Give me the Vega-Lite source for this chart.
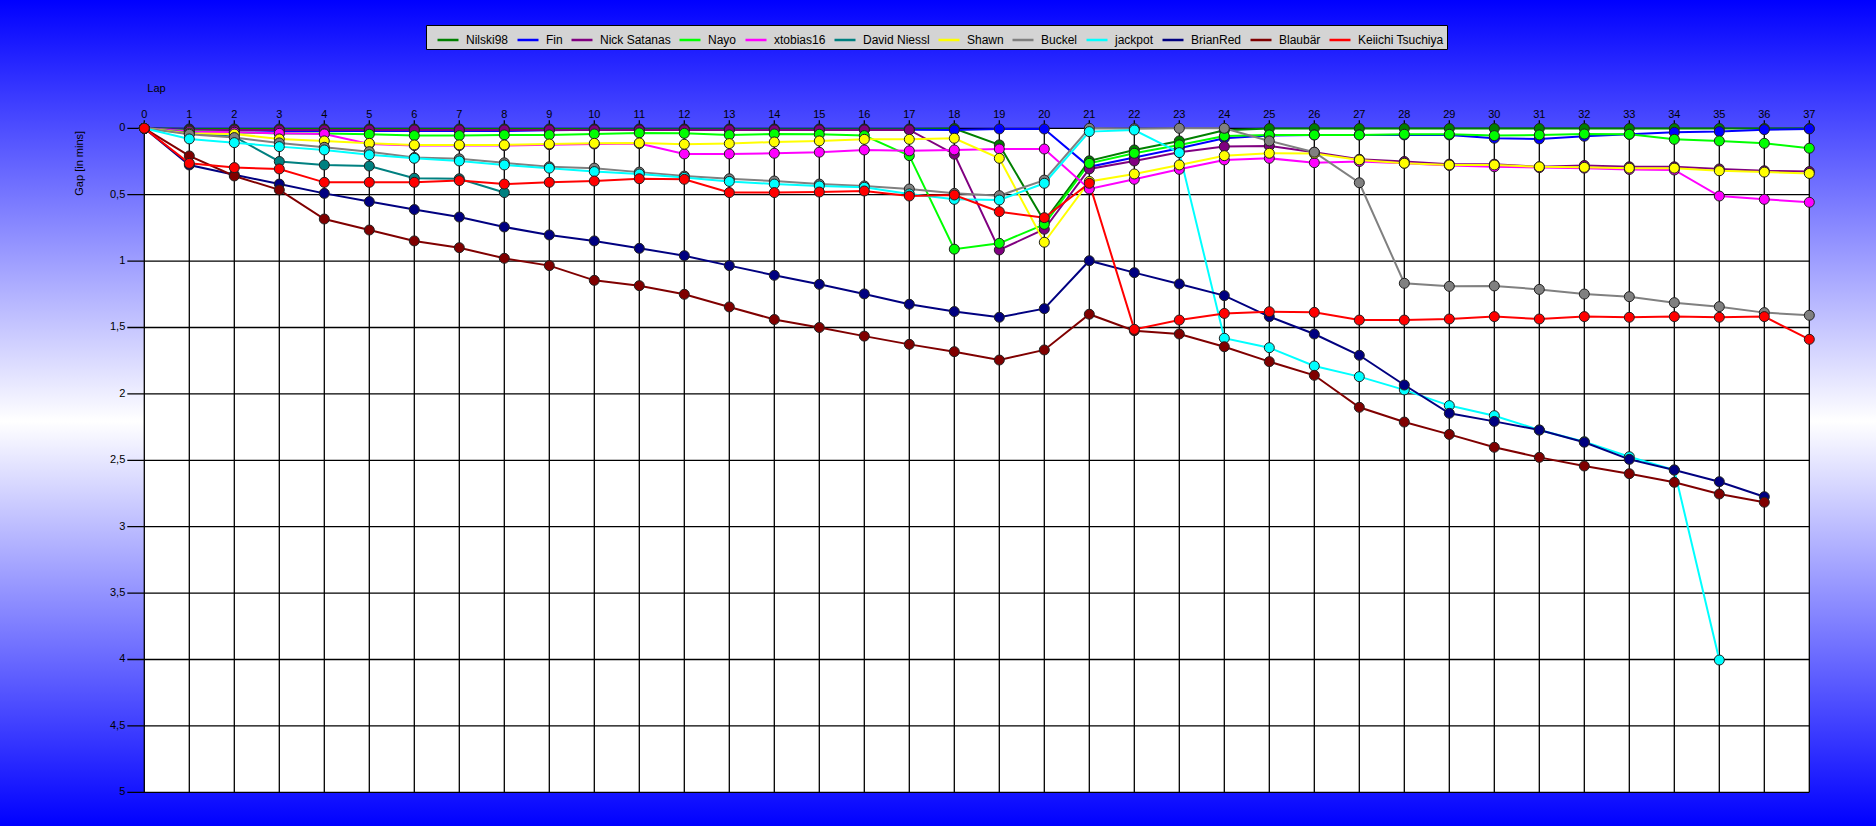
{
  "$schema": "https://vega.github.io/schema/vega-lite/v6.json",
  "width": 1876,
  "height": 826,
  "autosize": {"type": "fit", "contains": "padding"},
  "padding": 0,
  "background": "#0000ff",
  "view": {
    "stroke": null,
    "fill": {"gradient": "linear", "x1": 0, "y1": 0, "x2": 0, "y2": 1,
      "stops": [{"offset": 0, "color": "#0000ff"}, {"offset": 0.51, "color": "#ffffff"}, {"offset": 1, "color": "#0000ff"}]}
  },
  "config": {
    "font": "Liberation Sans",
    "locale": {"number": {"decimal": ",", "thousands": ".", "grouping": [3], "currency": ["", " €"]}},
    "text": {"font": "Liberation Sans", "fontSize": 11, "color": "#000000"}
  },
  "datasets": {
    "plot": [{"area": "plot"}],
    "laps": [{"lap":0},{"lap":1},{"lap":2},{"lap":3},{"lap":4},{"lap":5},{"lap":6},{"lap":7},{"lap":8},{"lap":9},{"lap":10},{"lap":11},{"lap":12},{"lap":13},{"lap":14},{"lap":15},{"lap":16},{"lap":17},{"lap":18},{"lap":19},{"lap":20},{"lap":21},{"lap":22},{"lap":23},{"lap":24},{"lap":25},{"lap":26},{"lap":27},{"lap":28},{"lap":29},{"lap":30},{"lap":31},{"lap":32},{"lap":33},{"lap":34},{"lap":35},{"lap":36},{"lap":37}],
    "gaps": [{"g":0},{"g":0.5},{"g":1},{"g":1.5},{"g":2},{"g":2.5},{"g":3},{"g":3.5},{"g":4},{"g":4.5},{"g":5}],
    "race": [
{"d":"Nilski98","lap":0,"gap":0},{"d":"Nilski98","lap":1,"gap":0.005},{"d":"Nilski98","lap":2,"gap":0.005},{"d":"Nilski98","lap":3,"gap":0.005},{"d":"Nilski98","lap":4,"gap":0.005},{"d":"Nilski98","lap":5,"gap":0.005},{"d":"Nilski98","lap":6,"gap":0.005},{"d":"Nilski98","lap":7,"gap":0.005},{"d":"Nilski98","lap":8,"gap":0.005},{"d":"Nilski98","lap":9,"gap":0.005},{"d":"Nilski98","lap":10,"gap":0.005},{"d":"Nilski98","lap":11,"gap":0.005},{"d":"Nilski98","lap":12,"gap":0.005},{"d":"Nilski98","lap":13,"gap":0.005},{"d":"Nilski98","lap":14,"gap":0.005},{"d":"Nilski98","lap":15,"gap":0.005},{"d":"Nilski98","lap":16,"gap":0.005},{"d":"Nilski98","lap":17,"gap":0.005},{"d":"Nilski98","lap":18,"gap":0.002},{"d":"Nilski98","lap":19,"gap":0.125},{"d":"Nilski98","lap":20,"gap":0.7},{"d":"Nilski98","lap":21,"gap":0.245},{"d":"Nilski98","lap":22,"gap":0.163},{"d":"Nilski98","lap":23,"gap":0.095},{"d":"Nilski98","lap":24,"gap":0.015},{"d":"Nilski98","lap":25,"gap":0.002},{"d":"Nilski98","lap":26,"gap":0.002},{"d":"Nilski98","lap":27,"gap":0.002},{"d":"Nilski98","lap":28,"gap":0.002},{"d":"Nilski98","lap":29,"gap":0.002},{"d":"Nilski98","lap":30,"gap":0.002},{"d":"Nilski98","lap":31,"gap":0.002},{"d":"Nilski98","lap":32,"gap":0.002},{"d":"Nilski98","lap":33,"gap":0.002},{"d":"Nilski98","lap":34,"gap":0.002},{"d":"Nilski98","lap":35,"gap":0.002},{"d":"Nilski98","lap":36,"gap":0.002},{"d":"Nilski98","lap":37,"gap":0.002},
{"d":"Fin","lap":0,"gap":0},{"d":"Fin","lap":1,"gap":0.01},{"d":"Fin","lap":2,"gap":0.015},{"d":"Fin","lap":3,"gap":0.02},{"d":"Fin","lap":4,"gap":0.02},{"d":"Fin","lap":5,"gap":0.02},{"d":"Fin","lap":6,"gap":0.02},{"d":"Fin","lap":7,"gap":0.02},{"d":"Fin","lap":8,"gap":0.02},{"d":"Fin","lap":9,"gap":0.015},{"d":"Fin","lap":10,"gap":0.01},{"d":"Fin","lap":11,"gap":0.01},{"d":"Fin","lap":12,"gap":0.01},{"d":"Fin","lap":13,"gap":0.01},{"d":"Fin","lap":14,"gap":0.01},{"d":"Fin","lap":15,"gap":0.01},{"d":"Fin","lap":16,"gap":0.01},{"d":"Fin","lap":17,"gap":0.01},{"d":"Fin","lap":18,"gap":0.013},{"d":"Fin","lap":19,"gap":0.005},{"d":"Fin","lap":20,"gap":0.005},{"d":"Fin","lap":21,"gap":0.29},{"d":"Fin","lap":22,"gap":0.22},{"d":"Fin","lap":23,"gap":0.15},{"d":"Fin","lap":24,"gap":0.075},{"d":"Fin","lap":25,"gap":0.055},{"d":"Fin","lap":26,"gap":0.05},{"d":"Fin","lap":27,"gap":0.05},{"d":"Fin","lap":28,"gap":0.05},{"d":"Fin","lap":29,"gap":0.05},{"d":"Fin","lap":30,"gap":0.075},{"d":"Fin","lap":31,"gap":0.08},{"d":"Fin","lap":32,"gap":0.06},{"d":"Fin","lap":33,"gap":0.045},{"d":"Fin","lap":34,"gap":0.03},{"d":"Fin","lap":35,"gap":0.025},{"d":"Fin","lap":36,"gap":0.01},{"d":"Fin","lap":37,"gap":0.005},
{"d":"Nick Satanas","lap":0,"gap":0},{"d":"Nick Satanas","lap":1,"gap":0.013},{"d":"Nick Satanas","lap":2,"gap":0.013},{"d":"Nick Satanas","lap":3,"gap":0.012},{"d":"Nick Satanas","lap":4,"gap":0.012},{"d":"Nick Satanas","lap":5,"gap":0.012},{"d":"Nick Satanas","lap":6,"gap":0.012},{"d":"Nick Satanas","lap":7,"gap":0.012},{"d":"Nick Satanas","lap":8,"gap":0.012},{"d":"Nick Satanas","lap":9,"gap":0.012},{"d":"Nick Satanas","lap":10,"gap":0.012},{"d":"Nick Satanas","lap":11,"gap":0.012},{"d":"Nick Satanas","lap":12,"gap":0.012},{"d":"Nick Satanas","lap":13,"gap":0.012},{"d":"Nick Satanas","lap":14,"gap":0.012},{"d":"Nick Satanas","lap":15,"gap":0.012},{"d":"Nick Satanas","lap":16,"gap":0.012},{"d":"Nick Satanas","lap":17,"gap":0.012},{"d":"Nick Satanas","lap":18,"gap":0.195},{"d":"Nick Satanas","lap":19,"gap":0.916},{"d":"Nick Satanas","lap":20,"gap":0.76},{"d":"Nick Satanas","lap":21,"gap":0.306},{"d":"Nick Satanas","lap":22,"gap":0.246},{"d":"Nick Satanas","lap":23,"gap":0.18},{"d":"Nick Satanas","lap":24,"gap":0.138},{"d":"Nick Satanas","lap":25,"gap":0.133},{"d":"Nick Satanas","lap":26,"gap":0.18},{"d":"Nick Satanas","lap":27,"gap":0.233},{"d":"Nick Satanas","lap":28,"gap":0.25},{"d":"Nick Satanas","lap":29,"gap":0.27},{"d":"Nick Satanas","lap":30,"gap":0.27},{"d":"Nick Satanas","lap":31,"gap":0.29},{"d":"Nick Satanas","lap":32,"gap":0.28},{"d":"Nick Satanas","lap":33,"gap":0.29},{"d":"Nick Satanas","lap":34,"gap":0.29},{"d":"Nick Satanas","lap":35,"gap":0.306},{"d":"Nick Satanas","lap":36,"gap":0.32},{"d":"Nick Satanas","lap":37,"gap":0.326},
{"d":"Nayo","lap":0,"gap":0},{"d":"Nayo","lap":1,"gap":0.02},{"d":"Nayo","lap":2,"gap":0.03},{"d":"Nayo","lap":3,"gap":0.04},{"d":"Nayo","lap":4,"gap":0.04},{"d":"Nayo","lap":5,"gap":0.045},{"d":"Nayo","lap":6,"gap":0.055},{"d":"Nayo","lap":7,"gap":0.055},{"d":"Nayo","lap":8,"gap":0.05},{"d":"Nayo","lap":9,"gap":0.05},{"d":"Nayo","lap":10,"gap":0.043},{"d":"Nayo","lap":11,"gap":0.035},{"d":"Nayo","lap":12,"gap":0.038},{"d":"Nayo","lap":13,"gap":0.05},{"d":"Nayo","lap":14,"gap":0.043},{"d":"Nayo","lap":15,"gap":0.045},{"d":"Nayo","lap":16,"gap":0.055},{"d":"Nayo","lap":17,"gap":0.206},{"d":"Nayo","lap":18,"gap":0.91},{"d":"Nayo","lap":19,"gap":0.866},{"d":"Nayo","lap":20,"gap":0.723},{"d":"Nayo","lap":21,"gap":0.264},{"d":"Nayo","lap":22,"gap":0.188},{"d":"Nayo","lap":23,"gap":0.125},{"d":"Nayo","lap":24,"gap":0.058},{"d":"Nayo","lap":25,"gap":0.05},{"d":"Nayo","lap":26,"gap":0.05},{"d":"Nayo","lap":27,"gap":0.05},{"d":"Nayo","lap":28,"gap":0.045},{"d":"Nayo","lap":29,"gap":0.045},{"d":"Nayo","lap":30,"gap":0.055},{"d":"Nayo","lap":31,"gap":0.05},{"d":"Nayo","lap":32,"gap":0.043},{"d":"Nayo","lap":33,"gap":0.045},{"d":"Nayo","lap":34,"gap":0.083},{"d":"Nayo","lap":35,"gap":0.095},{"d":"Nayo","lap":36,"gap":0.113},{"d":"Nayo","lap":37,"gap":0.15},
{"d":"xtobias16","lap":0,"gap":0},{"d":"xtobias16","lap":1,"gap":0.025},{"d":"xtobias16","lap":2,"gap":0.03},{"d":"xtobias16","lap":3,"gap":0.038},{"d":"xtobias16","lap":4,"gap":0.043},{"d":"xtobias16","lap":5,"gap":0.118},{"d":"xtobias16","lap":6,"gap":0.13},{"d":"xtobias16","lap":7,"gap":0.13},{"d":"xtobias16","lap":8,"gap":0.13},{"d":"xtobias16","lap":9,"gap":0.123},{"d":"xtobias16","lap":10,"gap":0.118},{"d":"xtobias16","lap":11,"gap":0.115},{"d":"xtobias16","lap":12,"gap":0.193},{"d":"xtobias16","lap":13,"gap":0.193},{"d":"xtobias16","lap":14,"gap":0.188},{"d":"xtobias16","lap":15,"gap":0.18},{"d":"xtobias16","lap":16,"gap":0.163},{"d":"xtobias16","lap":17,"gap":0.17},{"d":"xtobias16","lap":18,"gap":0.163},{"d":"xtobias16","lap":19,"gap":0.156},{"d":"xtobias16","lap":20,"gap":0.156},{"d":"xtobias16","lap":21,"gap":0.457},{"d":"xtobias16","lap":22,"gap":0.384},{"d":"xtobias16","lap":23,"gap":0.309},{"d":"xtobias16","lap":24,"gap":0.238},{"d":"xtobias16","lap":25,"gap":0.226},{"d":"xtobias16","lap":26,"gap":0.259},{"d":"xtobias16","lap":27,"gap":0.25},{"d":"xtobias16","lap":28,"gap":0.263},{"d":"xtobias16","lap":29,"gap":0.28},{"d":"xtobias16","lap":30,"gap":0.29},{"d":"xtobias16","lap":31,"gap":0.296},{"d":"xtobias16","lap":32,"gap":0.3},{"d":"xtobias16","lap":33,"gap":0.31},{"d":"xtobias16","lap":34,"gap":0.314},{"d":"xtobias16","lap":35,"gap":0.51},{"d":"xtobias16","lap":36,"gap":0.535},{"d":"xtobias16","lap":37,"gap":0.557},
{"d":"David Niessl","lap":0,"gap":0},{"d":"David Niessl","lap":1,"gap":0.035},{"d":"David Niessl","lap":2,"gap":0.063},{"d":"David Niessl","lap":3,"gap":0.25},{"d":"David Niessl","lap":4,"gap":0.276},{"d":"David Niessl","lap":5,"gap":0.284},{"d":"David Niessl","lap":6,"gap":0.376},{"d":"David Niessl","lap":7,"gap":0.38},{"d":"David Niessl","lap":8,"gap":0.484},
{"d":"Shawn","lap":0,"gap":0},{"d":"Shawn","lap":1,"gap":0.04},{"d":"Shawn","lap":2,"gap":0.043},{"d":"Shawn","lap":3,"gap":0.08},{"d":"Shawn","lap":4,"gap":0.095},{"d":"Shawn","lap":5,"gap":0.113},{"d":"Shawn","lap":6,"gap":0.125},{"d":"Shawn","lap":7,"gap":0.125},{"d":"Shawn","lap":8,"gap":0.125},{"d":"Shawn","lap":9,"gap":0.118},{"d":"Shawn","lap":10,"gap":0.113},{"d":"Shawn","lap":11,"gap":0.11},{"d":"Shawn","lap":12,"gap":0.12},{"d":"Shawn","lap":13,"gap":0.115},{"d":"Shawn","lap":14,"gap":0.103},{"d":"Shawn","lap":15,"gap":0.095},{"d":"Shawn","lap":16,"gap":0.083},{"d":"Shawn","lap":17,"gap":0.083},{"d":"Shawn","lap":18,"gap":0.075},{"d":"Shawn","lap":19,"gap":0.226},{"d":"Shawn","lap":20,"gap":0.858},{"d":"Shawn","lap":21,"gap":0.4},{"d":"Shawn","lap":22,"gap":0.344},{"d":"Shawn","lap":23,"gap":0.276},{"d":"Shawn","lap":24,"gap":0.206},{"d":"Shawn","lap":25,"gap":0.188},{"d":"Shawn","lap":26,"gap":0.19},{"d":"Shawn","lap":27,"gap":0.238},{"d":"Shawn","lap":28,"gap":0.263},{"d":"Shawn","lap":29,"gap":0.276},{"d":"Shawn","lap":30,"gap":0.276},{"d":"Shawn","lap":31,"gap":0.29},{"d":"Shawn","lap":32,"gap":0.294},{"d":"Shawn","lap":33,"gap":0.3},{"d":"Shawn","lap":34,"gap":0.3},{"d":"Shawn","lap":35,"gap":0.32},{"d":"Shawn","lap":36,"gap":0.33},{"d":"Shawn","lap":37,"gap":0.34},
{"d":"Buckel","lap":0,"gap":0},{"d":"Buckel","lap":1,"gap":0.045},{"d":"Buckel","lap":2,"gap":0.07},{"d":"Buckel","lap":3,"gap":0.11},{"d":"Buckel","lap":4,"gap":0.143},{"d":"Buckel","lap":5,"gap":0.176},{"d":"Buckel","lap":6,"gap":0.22},{"d":"Buckel","lap":7,"gap":0.23},{"d":"Buckel","lap":8,"gap":0.26},{"d":"Buckel","lap":9,"gap":0.29},{"d":"Buckel","lap":10,"gap":0.3},{"d":"Buckel","lap":11,"gap":0.33},{"d":"Buckel","lap":12,"gap":0.36},{"d":"Buckel","lap":13,"gap":0.38},{"d":"Buckel","lap":14,"gap":0.397},{"d":"Buckel","lap":15,"gap":0.42},{"d":"Buckel","lap":16,"gap":0.434},{"d":"Buckel","lap":17,"gap":0.457},{"d":"Buckel","lap":18,"gap":0.49},{"d":"Buckel","lap":19,"gap":0.507},{"d":"Buckel","lap":20,"gap":0.39},{"d":"Buckel","lap":21,"gap":0.0},{"d":"Buckel","lap":22,"gap":0.003},{"d":"Buckel","lap":23,"gap":0.0},{"d":"Buckel","lap":24,"gap":0.0},{"d":"Buckel","lap":25,"gap":0.095},{"d":"Buckel","lap":26,"gap":0.18},{"d":"Buckel","lap":27,"gap":0.41},{"d":"Buckel","lap":28,"gap":1.167},{"d":"Buckel","lap":29,"gap":1.19},{"d":"Buckel","lap":30,"gap":1.187},{"d":"Buckel","lap":31,"gap":1.213},{"d":"Buckel","lap":32,"gap":1.248},{"d":"Buckel","lap":33,"gap":1.268},{"d":"Buckel","lap":34,"gap":1.313},{"d":"Buckel","lap":35,"gap":1.343},{"d":"Buckel","lap":36,"gap":1.388},{"d":"Buckel","lap":37,"gap":1.408},
{"d":"jackpot","lap":0,"gap":0},{"d":"jackpot","lap":1,"gap":0.08},{"d":"jackpot","lap":2,"gap":0.108},{"d":"jackpot","lap":3,"gap":0.138},{"d":"jackpot","lap":4,"gap":0.163},{"d":"jackpot","lap":5,"gap":0.2},{"d":"jackpot","lap":6,"gap":0.226},{"d":"jackpot","lap":7,"gap":0.246},{"d":"jackpot","lap":8,"gap":0.276},{"d":"jackpot","lap":9,"gap":0.3},{"d":"jackpot","lap":10,"gap":0.326},{"d":"jackpot","lap":11,"gap":0.344},{"d":"jackpot","lap":12,"gap":0.37},{"d":"jackpot","lap":13,"gap":0.4},{"d":"jackpot","lap":14,"gap":0.42},{"d":"jackpot","lap":15,"gap":0.434},{"d":"jackpot","lap":16,"gap":0.444},{"d":"jackpot","lap":17,"gap":0.494},{"d":"jackpot","lap":18,"gap":0.535},{"d":"jackpot","lap":19,"gap":0.54},{"d":"jackpot","lap":20,"gap":0.414},{"d":"jackpot","lap":21,"gap":0.025},{"d":"jackpot","lap":22,"gap":0.013},{"d":"jackpot","lap":23,"gap":0.183},{"d":"jackpot","lap":24,"gap":1.581},{"d":"jackpot","lap":25,"gap":1.652},{"d":"jackpot","lap":26,"gap":1.79},{"d":"jackpot","lap":27,"gap":1.87},{"d":"jackpot","lap":28,"gap":1.97},{"d":"jackpot","lap":29,"gap":2.088},{"d":"jackpot","lap":30,"gap":2.164},{"d":"jackpot","lap":31,"gap":2.272},{"d":"jackpot","lap":32,"gap":2.36},{"d":"jackpot","lap":33,"gap":2.473},{"d":"jackpot","lap":34,"gap":2.573},{"d":"jackpot","lap":35,"gap":4.004},
{"d":"BrianRed","lap":0,"gap":0},{"d":"BrianRed","lap":1,"gap":0.276},{"d":"BrianRed","lap":2,"gap":0.35},{"d":"BrianRed","lap":3,"gap":0.42},{"d":"BrianRed","lap":4,"gap":0.49},{"d":"BrianRed","lap":5,"gap":0.552},{"d":"BrianRed","lap":6,"gap":0.612},{"d":"BrianRed","lap":7,"gap":0.668},{"d":"BrianRed","lap":8,"gap":0.743},{"d":"BrianRed","lap":9,"gap":0.803},{"d":"BrianRed","lap":10,"gap":0.848},{"d":"BrianRed","lap":11,"gap":0.904},{"d":"BrianRed","lap":12,"gap":0.959},{"d":"BrianRed","lap":13,"gap":1.034},{"d":"BrianRed","lap":14,"gap":1.107},{"d":"BrianRed","lap":15,"gap":1.175},{"d":"BrianRed","lap":16,"gap":1.247},{"d":"BrianRed","lap":17,"gap":1.325},{"d":"BrianRed","lap":18,"gap":1.38},{"d":"BrianRed","lap":19,"gap":1.423},{"d":"BrianRed","lap":20,"gap":1.358},{"d":"BrianRed","lap":21,"gap":0.997},{"d":"BrianRed","lap":22,"gap":1.087},{"d":"BrianRed","lap":23,"gap":1.172},{"d":"BrianRed","lap":24,"gap":1.26},{"d":"BrianRed","lap":25,"gap":1.418},{"d":"BrianRed","lap":26,"gap":1.549},{"d":"BrianRed","lap":27,"gap":1.709},{"d":"BrianRed","lap":28,"gap":1.933},{"d":"BrianRed","lap":29,"gap":2.146},{"d":"BrianRed","lap":30,"gap":2.207},{"d":"BrianRed","lap":31,"gap":2.272},{"d":"BrianRed","lap":32,"gap":2.364},{"d":"BrianRed","lap":33,"gap":2.493},{"d":"BrianRed","lap":34,"gap":2.573},{"d":"BrianRed","lap":35,"gap":2.661},{"d":"BrianRed","lap":36,"gap":2.774},
{"d":"Blaubär","lap":0,"gap":0},{"d":"Blaubär","lap":1,"gap":0.208},{"d":"Blaubär","lap":2,"gap":0.359},{"d":"Blaubär","lap":3,"gap":0.464},{"d":"Blaubär","lap":4,"gap":0.683},{"d":"Blaubär","lap":5,"gap":0.766},{"d":"Blaubär","lap":6,"gap":0.848},{"d":"Blaubär","lap":7,"gap":0.899},{"d":"Blaubär","lap":8,"gap":0.979},{"d":"Blaubär","lap":9,"gap":1.034},{"d":"Blaubär","lap":10,"gap":1.145},{"d":"Blaubär","lap":11,"gap":1.185},{"d":"Blaubär","lap":12,"gap":1.25},{"d":"Blaubär","lap":13,"gap":1.345},{"d":"Blaubär","lap":14,"gap":1.44},{"d":"Blaubär","lap":15,"gap":1.5},{"d":"Blaubär","lap":16,"gap":1.565},{"d":"Blaubär","lap":17,"gap":1.627},{"d":"Blaubär","lap":18,"gap":1.682},{"d":"Blaubär","lap":19,"gap":1.745},{"d":"Blaubär","lap":20,"gap":1.669},{"d":"Blaubär","lap":21,"gap":1.4},{"d":"Blaubär","lap":22,"gap":1.524},{"d":"Blaubär","lap":23,"gap":1.549},{"d":"Blaubär","lap":24,"gap":1.645},{"d":"Blaubär","lap":25,"gap":1.757},{"d":"Blaubär","lap":26,"gap":1.86},{"d":"Blaubär","lap":27,"gap":2.101},{"d":"Blaubär","lap":28,"gap":2.212},{"d":"Blaubär","lap":29,"gap":2.305},{"d":"Blaubär","lap":30,"gap":2.402},{"d":"Blaubär","lap":31,"gap":2.478},{"d":"Blaubär","lap":32,"gap":2.543},{"d":"Blaubär","lap":33,"gap":2.601},{"d":"Blaubär","lap":34,"gap":2.666},{"d":"Blaubär","lap":35,"gap":2.754},{"d":"Blaubär","lap":36,"gap":2.816},
{"d":"Keiichi Tsuchiya","lap":0,"gap":0},{"d":"Keiichi Tsuchiya","lap":1,"gap":0.264},{"d":"Keiichi Tsuchiya","lap":2,"gap":0.296},{"d":"Keiichi Tsuchiya","lap":3,"gap":0.306},{"d":"Keiichi Tsuchiya","lap":4,"gap":0.407},{"d":"Keiichi Tsuchiya","lap":5,"gap":0.407},{"d":"Keiichi Tsuchiya","lap":6,"gap":0.407},{"d":"Keiichi Tsuchiya","lap":7,"gap":0.394},{"d":"Keiichi Tsuchiya","lap":8,"gap":0.42},{"d":"Keiichi Tsuchiya","lap":9,"gap":0.407},{"d":"Keiichi Tsuchiya","lap":10,"gap":0.397},{"d":"Keiichi Tsuchiya","lap":11,"gap":0.38},{"d":"Keiichi Tsuchiya","lap":12,"gap":0.384},{"d":"Keiichi Tsuchiya","lap":13,"gap":0.484},{"d":"Keiichi Tsuchiya","lap":14,"gap":0.484},{"d":"Keiichi Tsuchiya","lap":15,"gap":0.48},{"d":"Keiichi Tsuchiya","lap":16,"gap":0.472},{"d":"Keiichi Tsuchiya","lap":17,"gap":0.51},{"d":"Keiichi Tsuchiya","lap":18,"gap":0.502},{"d":"Keiichi Tsuchiya","lap":19,"gap":0.628},{"d":"Keiichi Tsuchiya","lap":20,"gap":0.673},{"d":"Keiichi Tsuchiya","lap":21,"gap":0.414},{"d":"Keiichi Tsuchiya","lap":22,"gap":1.514},{"d":"Keiichi Tsuchiya","lap":23,"gap":1.444},{"d":"Keiichi Tsuchiya","lap":24,"gap":1.394},{"d":"Keiichi Tsuchiya","lap":25,"gap":1.381},{"d":"Keiichi Tsuchiya","lap":26,"gap":1.386},{"d":"Keiichi Tsuchiya","lap":27,"gap":1.444},{"d":"Keiichi Tsuchiya","lap":28,"gap":1.444},{"d":"Keiichi Tsuchiya","lap":29,"gap":1.436},{"d":"Keiichi Tsuchiya","lap":30,"gap":1.418},{"d":"Keiichi Tsuchiya","lap":31,"gap":1.436},{"d":"Keiichi Tsuchiya","lap":32,"gap":1.418},{"d":"Keiichi Tsuchiya","lap":33,"gap":1.423},{"d":"Keiichi Tsuchiya","lap":34,"gap":1.418},{"d":"Keiichi Tsuchiya","lap":35,"gap":1.423},{"d":"Keiichi Tsuchiya","lap":36,"gap":1.418},{"d":"Keiichi Tsuchiya","lap":37,"gap":1.589}
    ]
  },
  "layer": [
    {
      "data": {"name": "plot"},
      "mark": {"type": "rect", "fill": "#ffffff"},
      "encoding": {
        "x": {"datum": 0, "type": "quantitative", "scale": {"domain": [-3.2067, 38.482], "nice": false, "zero": false}, "axis": null},
        "x2": {"datum": 37},
        "y": {"datum": 0, "type": "quantitative", "scale": {"domain": [-0.9661, 5.2538], "nice": false, "zero": false, "reverse": true}, "axis": null},
        "y2": {"datum": 5}
      }
    },
    {
      "data": {"name": "laps"},
      "mark": {"type": "rule", "color": "#000000", "strokeWidth": 1.3},
      "encoding": {
        "x": {"field": "lap", "type": "quantitative", "axis": null},
        "y": {"datum": -0.0602, "type": "quantitative", "axis": null},
        "y2": {"datum": 5}
      }
    },
    {
      "data": {"name": "gaps"},
      "mark": {"type": "rule", "color": "#000000", "strokeWidth": 1.3},
      "encoding": {
        "y": {"field": "g", "type": "quantitative", "axis": null},
        "x": {"datum": -0.3778, "type": "quantitative", "axis": null},
        "x2": {"datum": 37}
      }
    },
    {
      "data": {"name": "laps"},
      "mark": {"type": "text", "baseline": "alphabetic", "align": "center", "dy": -10, "fontSize": 11, "color": "#000000"},
      "encoding": {
        "x": {"field": "lap", "type": "quantitative", "axis": null},
        "y": {"datum": 0, "type": "quantitative", "axis": null},
        "text": {"field": "lap", "type": "quantitative", "format": "d"}
      }
    },
    {
      "data": {"name": "gaps"},
      "mark": {"type": "text", "baseline": "middle", "align": "right", "dx": -19, "fontSize": 11, "color": "#000000"},
      "encoding": {
        "y": {"field": "g", "type": "quantitative", "axis": null},
        "x": {"datum": 0, "type": "quantitative", "axis": null},
        "text": {"field": "g", "type": "quantitative", "format": "~g"}
      }
    },
    {
      "data": {"name": "plot"},
      "mark": {"type": "text", "text": "Lap", "baseline": "alphabetic", "align": "left", "dx": 3, "dy": -36.5, "fontSize": 11, "color": "#000000"},
      "encoding": {
        "x": {"datum": 0, "type": "quantitative", "axis": null},
        "y": {"datum": 0, "type": "quantitative", "axis": null}
      }
    },
    {
      "data": {"name": "plot"},
      "mark": {"type": "text", "text": "Gap [in mins]", "baseline": "middle", "align": "center", "angle": 270, "dx": -35, "dy": -64, "fontSize": 11, "color": "#000000"},
      "encoding": {
        "x": {"datum": 0, "type": "quantitative", "axis": null},
        "y": {"datum": 0, "type": "quantitative", "axis": null}
      }
    },
    {
      "data": {"name": "race"},
      "mark": {"type": "line", "strokeWidth": 2},
      "encoding": {
        "x": {"field": "lap", "type": "quantitative", "axis": null},
        "y": {"field": "gap", "type": "quantitative", "axis": null},
        "color": {"field": "d", "type": "nominal",
          "scale": {"domain": ["Nilski98","Fin","Nick Satanas","Nayo","xtobias16","David Niessl","Shawn","Buckel","jackpot","BrianRed","Blaubär","Keiichi Tsuchiya"],
            "range": ["#008000","#0000ff","#800080","#00ff00","#ff00ff","#008080","#ffff00","#808080","#00ffff","#000080","#800000","#ff0000"]},
          "legend": {"orient": "none", "legendX": 426, "legendY": 25, "direction": "horizontal", "columns": 12, "title": null,
            "fillColor": "#d4d4d4", "strokeColor": "#000000", "padding": 3,
            "symbolType": "stroke", "symbolSize": 441, "symbolStrokeWidth": 2.5, "symbolOffset": 7,
            "labelFont": "Liberation Sans", "labelFontSize": 12, "labelColor": "#000000", "labelOffset": 6, "labelLimit": 300,
            "columnPadding": 0}}
      }
    },
    {
      "data": {"name": "race"},
      "mark": {"type": "point", "filled": true, "size": 100, "opacity": 1, "stroke": "#202020", "strokeWidth": 1},
      "encoding": {
        "x": {"field": "lap", "type": "quantitative", "axis": null},
        "y": {"field": "gap", "type": "quantitative", "axis": null},
        "color": {"field": "d", "type": "nominal", "legend": null}
      }
    }
  ]
}
